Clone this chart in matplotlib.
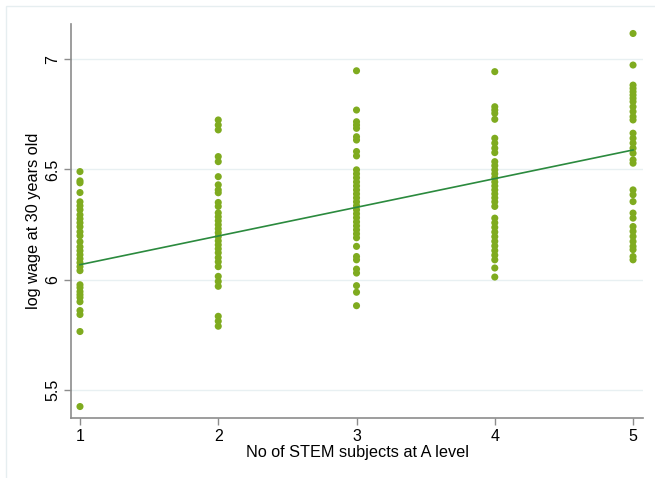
import numpy as np
import matplotlib
matplotlib.use("Agg")
import matplotlib.pyplot as plt
from matplotlib.patches import Rectangle

plt.rcParams['font.family'] = ['Liberation Sans', 'DejaVu Sans']

# log wage values, one list per number of STEM subjects
stem_1 = [6.490, 6.448, 6.439, 6.395, 6.353, 6.335, 6.317, 6.294, 6.276, 6.258,
          6.240, 6.217, 6.199, 6.172, 6.149, 6.131, 6.113, 6.095, 6.077, 6.059,
          6.041, 5.977, 5.964, 5.946, 5.932, 5.919, 5.900, 5.860, 5.842, 5.765,
          5.425]
stem_2 = [6.724, 6.701, 6.679, 6.558, 6.535, 6.467, 6.430, 6.407, 6.394, 6.350,
          6.332, 6.303, 6.285, 6.267, 6.249, 6.231, 6.213, 6.195, 6.176, 6.158,
          6.140, 6.122, 6.100, 6.081, 6.059, 6.015, 5.992, 5.970, 5.834, 5.812,
          5.789]
stem_3 = [6.947, 6.769, 6.716, 6.701, 6.686, 6.648, 6.633, 6.581, 6.561, 6.498,
          6.480, 6.462, 6.443, 6.425, 6.407, 6.389, 6.371, 6.353, 6.335, 6.317,
          6.299, 6.281, 6.262, 6.244, 6.226, 6.208, 6.190, 6.151, 6.105, 6.090,
          6.048, 6.030, 5.973, 5.943, 5.882]
stem_4 = [6.943, 6.784, 6.769, 6.754, 6.727, 6.641, 6.619, 6.596, 6.576, 6.535,
          6.517, 6.498, 6.480, 6.462, 6.443, 6.425, 6.407, 6.389, 6.371, 6.353,
          6.332, 6.279, 6.258, 6.237, 6.216, 6.195, 6.174, 6.153, 6.132, 6.111,
          6.090, 6.053, 6.012]
stem_5 = [7.116, 6.973, 6.882, 6.867, 6.852, 6.837, 6.822, 6.807, 6.784, 6.762,
          6.739, 6.724, 6.664, 6.641, 6.619, 6.596, 6.573, 6.543, 6.528, 6.407,
          6.385, 6.354, 6.302, 6.279, 6.241, 6.219, 6.196, 6.173, 6.151, 6.136,
          6.105, 6.090]
groups = [stem_1, stem_2, stem_3, stem_4, stem_5]

# fitted line end points as drawn
fit_x = [1, 5]
fit_y = [6.068, 6.588]

x_ticks = [1, 2, 3, 4, 5]
y_ticks = [5.5, 6, 6.5, 7]
y_ticklabels = ["5.5", "6", "6.5", "7"]

fig = plt.figure(figsize=(6.55, 4.78), dpi=100)
# faint outer frame (left and top edges visible)
fig.patches.append(Rectangle((6 / 655, -0.1), 1.2, 1 - 6 / 478 + 0.1,
                             transform=fig.transFigure, fill=False,
                             edgecolor="#e6eef0", linewidth=1.0))
ax = fig.add_axes([71 / 655, 1 - 418 / 478, (643 - 71) / 655, (418 - 24) / 478])

for k, vals in zip(x_ticks, groups):
    ax.scatter(np.full(len(vals), k), vals, s=26, color="#7fab1f",
               edgecolors="none", zorder=3)
ax.plot(fit_x, fit_y, color="#2b8a3e", linewidth=1.2, zorder=4)

ax.set_xlim(0.935, 5.072)
ax.set_ylim(5.373, 7.159)
ax.set_xticks(x_ticks)
ax.set_yticks(y_ticks)
ax.set_yticklabels(y_ticklabels, rotation=90, va="center")
ax.yaxis.grid(True, color="#e8f0f2", linewidth=1.0)
ax.set_axisbelow(True)

for side in ["top", "right"]:
    ax.spines[side].set_visible(False)
for side in ["left", "bottom"]:
    ax.spines[side].set_color("#8c8c8c")
    ax.spines[side].set_linewidth(1.2)
ax.tick_params(axis="both", colors="#8c8c8c", length=5, width=1.0,
               labelcolor="black", labelsize=11.5, pad=3)

ax.set_xlabel("No of STEM subjects at A level", fontsize=11.7, labelpad=1)
ax.set_ylabel("log wage at 30 years old", fontsize=11.7, labelpad=3)

fig.savefig("out.png", dpi=100)
